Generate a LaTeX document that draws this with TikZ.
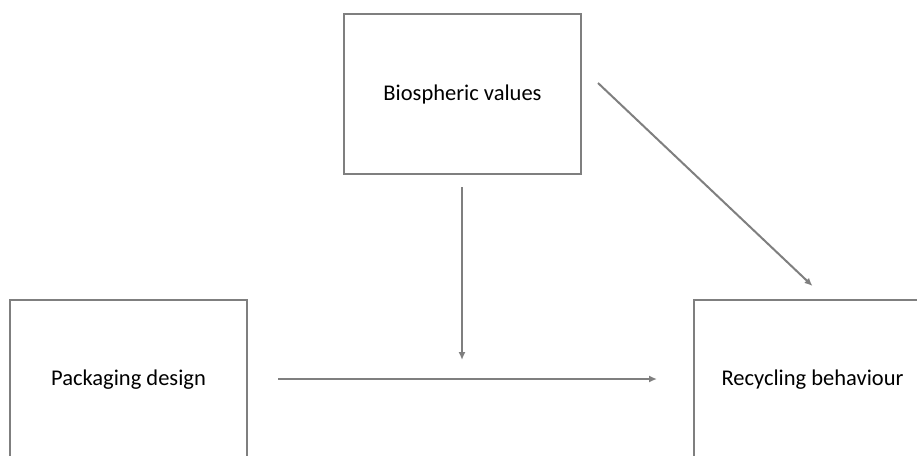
\documentclass[tikz,border=0pt]{standalone}
\usepackage{fontspec}
\setmainfont{Carlito}
\usetikzlibrary{arrows.meta}
\definecolor{linegray}{RGB}{127,127,127}

\begin{document}
\begin{tikzpicture}[x=1pt,y=-1pt,
   box/.style={draw=linegray,line width=2pt,minimum width=237pt,minimum height=160pt,inner sep=0pt,
      font=\fontsize{22.5}{27}\selectfont},
   link/.style={draw=linegray,line width=2pt,-{Latex[length=8pt,width=7pt]}}]
   \clip (0,0) rectangle (917,455);
   \node[box] (values) at (462.5,94) {Biospheric values};
   \node[box] (design) at (128.5,380) {Packaging design};
   \node[box] (behaviour) at (812.5,380) {Recycling behaviour};
   \coordinate (join) at (462,360);
   \draw[link] (design.east |- 0,379) -- (behaviour.west |- 0,379) [shorten <=30pt,shorten >=36pt];
   \draw[link,shorten <=12pt] (values.south -| join) -- (join);
   \draw[link] ([shift={(16,-11)}]values.east) -- ([shift={(0,-13)}]behaviour.north);
\end{tikzpicture}
\end{document}
